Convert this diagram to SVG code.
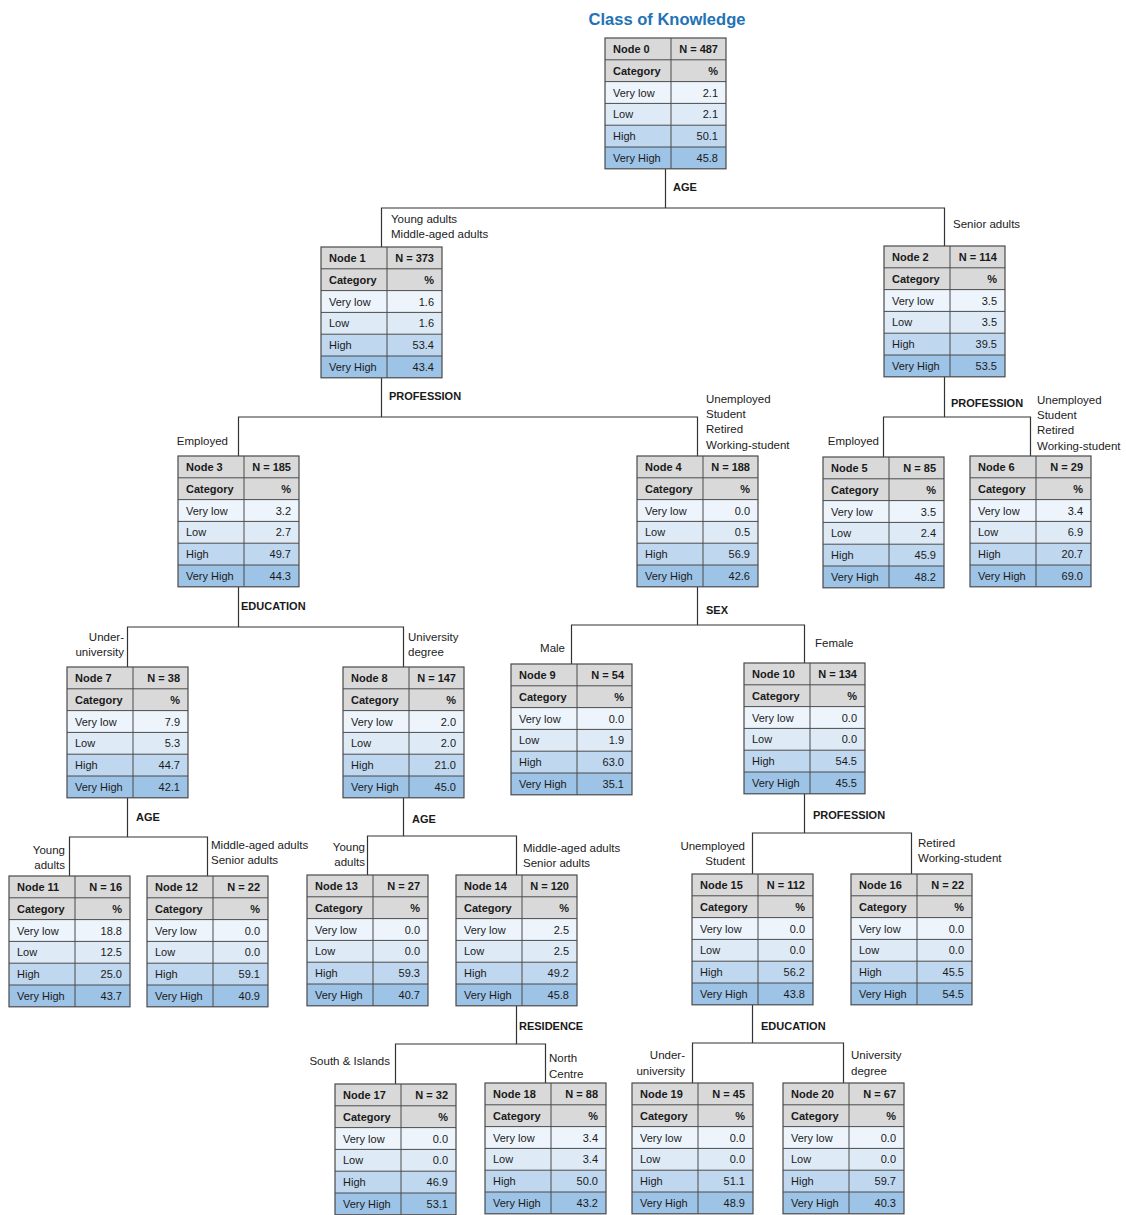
<svg xmlns="http://www.w3.org/2000/svg" width="1126" height="1215" viewBox="0 0 1126 1215">
<style>
text{font-family:"Liberation Sans",Arial,sans-serif;fill:#1a1a1a}
.t{font-size:11px}
.b{font-weight:bold}
.r{text-anchor:end}
.lb{font-size:11.5px;fill:#222}
.var{font-size:11px;font-weight:bold}
.title{font-size:16.5px;font-weight:bold;fill:#2272b5;text-anchor:middle}
.hd{fill:#d9d9d9}.vl{fill:#edf4fc}.lo{fill:#deebf7}.hi{fill:#bfd7ef}.vh{fill:#9dc3e6}
.grid{stroke:#4a4a4a;stroke-width:1;fill:none}
.box{fill:none;stroke:#4a4a4a;stroke-width:1.2}
.conn path{fill:none;stroke:#333;stroke-width:1.2}
</style>
<defs>
<g id="tbl">
<rect class="hd" x="0" y="0" width="121" height="43.6"/>
<rect class="vl" x="0" y="43.6" width="121" height="21.8"/>
<rect class="lo" x="0" y="65.4" width="121" height="21.8"/>
<rect class="hi" x="0" y="87.2" width="121" height="21.8"/>
<rect class="vh" x="0" y="109" width="121" height="21.8"/>
<path class="grid" d="M0 21.8H121M0 43.6H121M0 65.4H121M0 87.2H121M0 109H121M66 0V130.8"/>
<rect class="box" x="0" y="0" width="121" height="130.8"/>
<text class="t b" x="8" y="36.7">Category</text>
<text class="t b r" x="113" y="36.7">%</text>
<text class="t" x="8" y="58.5">Very low</text>
<text class="t" x="8" y="80.3">Low</text>
<text class="t" x="8" y="102.1">High</text>
<text class="t" x="8" y="123.9">Very High</text>
</g>
</defs>
<rect width="1126" height="1215" fill="#fff"/>
<text class="title" x="667" y="25">Class of Knowledge</text>

<g id="connectors" class="conn">
<path d="M665.5 169V208M381.5 247V208H944.5V246"/>
<path d="M381.5 378V417M238.5 456V417H697.5V456"/>
<path d="M944.5 377V417M883.5 457V417H1030.5V456"/>
<path d="M238.5 587V627M127.5 667V627H403.5V667"/>
<path d="M697.5 587V625M571.5 664V625H804.5V663"/>
<path d="M127.5 798V837M69.5 876V837H207.5V876"/>
<path d="M403.5 798V836M367.5 875V836H516.5V875"/>
<path d="M804.5 794V833M752.5 874V833H911.5V874"/>
<path d="M516.5 1006V1044M395.5 1084V1044H545.5V1083"/>
<path d="M752.5 1005V1043M692.5 1083V1043H843.5V1083"/>
</g>

<g id="labels">
<text class="var" x="673" y="191">AGE</text>
<text class="lb" x="391" y="223">Young adults</text>
<text class="lb" x="391" y="238">Middle-aged adults</text>
<text class="lb" x="953" y="228">Senior adults</text>

<text class="var" x="389" y="400">PROFESSION</text>
<text class="lb r" x="228" y="445">Employed</text>
<text class="lb" x="706" y="403">Unemployed</text>
<text class="lb" x="706" y="418">Student</text>
<text class="lb" x="706" y="433">Retired</text>
<text class="lb" x="706" y="449">Working-student</text>

<text class="var" x="951" y="407">PROFESSION</text>
<text class="lb r" x="879" y="445">Employed</text>
<text class="lb" x="1037" y="404">Unemployed</text>
<text class="lb" x="1037" y="419">Student</text>
<text class="lb" x="1037" y="434">Retired</text>
<text class="lb" x="1037" y="450">Working-student</text>

<text class="var" x="241" y="610">EDUCATION</text>
<text class="lb r" x="124" y="641">Under-</text>
<text class="lb r" x="124" y="656">university</text>
<text class="lb" x="408" y="641">University</text>
<text class="lb" x="408" y="656">degree</text>

<text class="var" x="706" y="614">SEX</text>
<text class="lb r" x="565" y="652">Male</text>
<text class="lb" x="815" y="647">Female</text>

<text class="var" x="136" y="821">AGE</text>
<text class="lb r" x="65" y="854">Young</text>
<text class="lb r" x="65" y="869">adults</text>
<text class="lb" x="211" y="849">Middle-aged adults</text>
<text class="lb" x="211" y="864">Senior adults</text>

<text class="var" x="412" y="823">AGE</text>
<text class="lb r" x="365" y="851">Young</text>
<text class="lb r" x="365" y="866">adults</text>
<text class="lb" x="523" y="852">Middle-aged adults</text>
<text class="lb" x="523" y="867">Senior adults</text>

<text class="var" x="813" y="819">PROFESSION</text>
<text class="lb r" x="745" y="850">Unemployed</text>
<text class="lb r" x="745" y="865">Student</text>
<text class="lb" x="918" y="847">Retired</text>
<text class="lb" x="918" y="862">Working-student</text>

<text class="var" x="519" y="1030">RESIDENCE</text>
<text class="lb r" x="390" y="1065">South &amp; Islands</text>
<text class="lb" x="549" y="1062">North</text>
<text class="lb" x="549" y="1078">Centre</text>

<text class="var" x="761" y="1030">EDUCATION</text>
<text class="lb r" x="685" y="1059">Under-</text>
<text class="lb r" x="685" y="1075">university</text>
<text class="lb" x="851" y="1059">University</text>
<text class="lb" x="851" y="1075">degree</text>
</g>

<g id="node0" transform="translate(605,38)"><use href="#tbl"/><text class="t b" x="8" y="14.9">Node 0</text><text class="t b r" x="113" y="14.9">N = 487</text><text class="t r" x="113" y="58.5">2.1</text><text class="t r" x="113" y="80.3">2.1</text><text class="t r" x="113" y="102.1">50.1</text><text class="t r" x="113" y="123.9">45.8</text></g>
<g id="node1" transform="translate(321,247)"><use href="#tbl"/><text class="t b" x="8" y="14.9">Node 1</text><text class="t b r" x="113" y="14.9">N = 373</text><text class="t r" x="113" y="58.5">1.6</text><text class="t r" x="113" y="80.3">1.6</text><text class="t r" x="113" y="102.1">53.4</text><text class="t r" x="113" y="123.9">43.4</text></g>
<g id="node2" transform="translate(884,246)"><use href="#tbl"/><text class="t b" x="8" y="14.9">Node 2</text><text class="t b r" x="113" y="14.9">N = 114</text><text class="t r" x="113" y="58.5">3.5</text><text class="t r" x="113" y="80.3">3.5</text><text class="t r" x="113" y="102.1">39.5</text><text class="t r" x="113" y="123.9">53.5</text></g>
<g id="node3" transform="translate(178,456)"><use href="#tbl"/><text class="t b" x="8" y="14.9">Node 3</text><text class="t b r" x="113" y="14.9">N = 185</text><text class="t r" x="113" y="58.5">3.2</text><text class="t r" x="113" y="80.3">2.7</text><text class="t r" x="113" y="102.1">49.7</text><text class="t r" x="113" y="123.9">44.3</text></g>
<g id="node4" transform="translate(637,456)"><use href="#tbl"/><text class="t b" x="8" y="14.9">Node 4</text><text class="t b r" x="113" y="14.9">N = 188</text><text class="t r" x="113" y="58.5">0.0</text><text class="t r" x="113" y="80.3">0.5</text><text class="t r" x="113" y="102.1">56.9</text><text class="t r" x="113" y="123.9">42.6</text></g>
<g id="node5" transform="translate(823,457)"><use href="#tbl"/><text class="t b" x="8" y="14.9">Node 5</text><text class="t b r" x="113" y="14.9">N = 85</text><text class="t r" x="113" y="58.5">3.5</text><text class="t r" x="113" y="80.3">2.4</text><text class="t r" x="113" y="102.1">45.9</text><text class="t r" x="113" y="123.9">48.2</text></g>
<g id="node6" transform="translate(970,456)"><use href="#tbl"/><text class="t b" x="8" y="14.9">Node 6</text><text class="t b r" x="113" y="14.9">N = 29</text><text class="t r" x="113" y="58.5">3.4</text><text class="t r" x="113" y="80.3">6.9</text><text class="t r" x="113" y="102.1">20.7</text><text class="t r" x="113" y="123.9">69.0</text></g>
<g id="node7" transform="translate(67,667)"><use href="#tbl"/><text class="t b" x="8" y="14.9">Node 7</text><text class="t b r" x="113" y="14.9">N = 38</text><text class="t r" x="113" y="58.5">7.9</text><text class="t r" x="113" y="80.3">5.3</text><text class="t r" x="113" y="102.1">44.7</text><text class="t r" x="113" y="123.9">42.1</text></g>
<g id="node8" transform="translate(343,667)"><use href="#tbl"/><text class="t b" x="8" y="14.9">Node 8</text><text class="t b r" x="113" y="14.9">N = 147</text><text class="t r" x="113" y="58.5">2.0</text><text class="t r" x="113" y="80.3">2.0</text><text class="t r" x="113" y="102.1">21.0</text><text class="t r" x="113" y="123.9">45.0</text></g>
<g id="node9" transform="translate(511,664)"><use href="#tbl"/><text class="t b" x="8" y="14.9">Node 9</text><text class="t b r" x="113" y="14.9">N = 54</text><text class="t r" x="113" y="58.5">0.0</text><text class="t r" x="113" y="80.3">1.9</text><text class="t r" x="113" y="102.1">63.0</text><text class="t r" x="113" y="123.9">35.1</text></g>
<g id="node10" transform="translate(744,663)"><use href="#tbl"/><text class="t b" x="8" y="14.9">Node 10</text><text class="t b r" x="113" y="14.9">N = 134</text><text class="t r" x="113" y="58.5">0.0</text><text class="t r" x="113" y="80.3">0.0</text><text class="t r" x="113" y="102.1">54.5</text><text class="t r" x="113" y="123.9">45.5</text></g>
<g id="node11" transform="translate(9,876)"><use href="#tbl"/><text class="t b" x="8" y="14.9">Node 11</text><text class="t b r" x="113" y="14.9">N = 16</text><text class="t r" x="113" y="58.5">18.8</text><text class="t r" x="113" y="80.3">12.5</text><text class="t r" x="113" y="102.1">25.0</text><text class="t r" x="113" y="123.9">43.7</text></g>
<g id="node12" transform="translate(147,876)"><use href="#tbl"/><text class="t b" x="8" y="14.9">Node 12</text><text class="t b r" x="113" y="14.9">N = 22</text><text class="t r" x="113" y="58.5">0.0</text><text class="t r" x="113" y="80.3">0.0</text><text class="t r" x="113" y="102.1">59.1</text><text class="t r" x="113" y="123.9">40.9</text></g>
<g id="node13" transform="translate(307,875)"><use href="#tbl"/><text class="t b" x="8" y="14.9">Node 13</text><text class="t b r" x="113" y="14.9">N = 27</text><text class="t r" x="113" y="58.5">0.0</text><text class="t r" x="113" y="80.3">0.0</text><text class="t r" x="113" y="102.1">59.3</text><text class="t r" x="113" y="123.9">40.7</text></g>
<g id="node14" transform="translate(456,875)"><use href="#tbl"/><text class="t b" x="8" y="14.9">Node 14</text><text class="t b r" x="113" y="14.9">N = 120</text><text class="t r" x="113" y="58.5">2.5</text><text class="t r" x="113" y="80.3">2.5</text><text class="t r" x="113" y="102.1">49.2</text><text class="t r" x="113" y="123.9">45.8</text></g>
<g id="node15" transform="translate(692,874)"><use href="#tbl"/><text class="t b" x="8" y="14.9">Node 15</text><text class="t b r" x="113" y="14.9">N = 112</text><text class="t r" x="113" y="58.5">0.0</text><text class="t r" x="113" y="80.3">0.0</text><text class="t r" x="113" y="102.1">56.2</text><text class="t r" x="113" y="123.9">43.8</text></g>
<g id="node16" transform="translate(851,874)"><use href="#tbl"/><text class="t b" x="8" y="14.9">Node 16</text><text class="t b r" x="113" y="14.9">N = 22</text><text class="t r" x="113" y="58.5">0.0</text><text class="t r" x="113" y="80.3">0.0</text><text class="t r" x="113" y="102.1">45.5</text><text class="t r" x="113" y="123.9">54.5</text></g>
<g id="node17" transform="translate(335,1084)"><use href="#tbl"/><text class="t b" x="8" y="14.9">Node 17</text><text class="t b r" x="113" y="14.9">N = 32</text><text class="t r" x="113" y="58.5">0.0</text><text class="t r" x="113" y="80.3">0.0</text><text class="t r" x="113" y="102.1">46.9</text><text class="t r" x="113" y="123.9">53.1</text></g>
<g id="node18" transform="translate(485,1083)"><use href="#tbl"/><text class="t b" x="8" y="14.9">Node 18</text><text class="t b r" x="113" y="14.9">N = 88</text><text class="t r" x="113" y="58.5">3.4</text><text class="t r" x="113" y="80.3">3.4</text><text class="t r" x="113" y="102.1">50.0</text><text class="t r" x="113" y="123.9">43.2</text></g>
<g id="node19" transform="translate(632,1083)"><use href="#tbl"/><text class="t b" x="8" y="14.9">Node 19</text><text class="t b r" x="113" y="14.9">N = 45</text><text class="t r" x="113" y="58.5">0.0</text><text class="t r" x="113" y="80.3">0.0</text><text class="t r" x="113" y="102.1">51.1</text><text class="t r" x="113" y="123.9">48.9</text></g>
<g id="node20" transform="translate(783,1083)"><use href="#tbl"/><text class="t b" x="8" y="14.9">Node 20</text><text class="t b r" x="113" y="14.9">N = 67</text><text class="t r" x="113" y="58.5">0.0</text><text class="t r" x="113" y="80.3">0.0</text><text class="t r" x="113" y="102.1">59.7</text><text class="t r" x="113" y="123.9">40.3</text></g>
</svg>
